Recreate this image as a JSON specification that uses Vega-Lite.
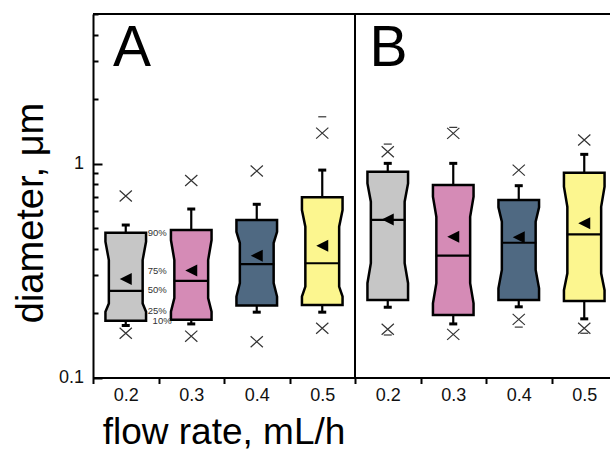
{
  "$schema": "https://vega.github.io/schema/vega-lite/v6.json",
  "width": 517,
  "height": 363.5,
  "autosize": {"type": "none"},
  "padding": {"left": 93, "top": 14, "right": 0, "bottom": 74.5},
  "background": "white",
  "config": {
    "view": {"stroke": null},
    "font": "Liberation Sans",
    "axis": {"labelFont": "Liberation Sans", "titleFont": "Liberation Sans"},
    "text": {"font": "Liberation Sans"}
  },
  "data": {"name": "boxes", "values": [
    {"box": "A0.2", "panel": "A", "rate": "0.2", "idx": 0, "p10": 0.184, "n4": 0.203, "n3": 0.222, "n2": 0.354, "n1": 0.431, "p90": 0.475, "median": 0.254, "mean": 0.289, "wlo": 0.175, "whi": 0.516, "xlo": 0.161, "xhi": 0.705},
    {"box": "A0.3", "panel": "A", "rate": "0.3", "idx": 1, "p10": 0.186, "n4": 0.203, "n3": 0.235, "n2": 0.354, "n1": 0.439, "p90": 0.489, "median": 0.283, "mean": 0.316, "wlo": 0.178, "whi": 0.613, "xlo": 0.156, "xhi": 0.833},
    {"box": "A0.4", "panel": "A", "rate": "0.4", "idx": 2, "p10": 0.217, "n4": 0.239, "n3": 0.276, "n2": 0.425, "n1": 0.48, "p90": 0.545, "median": 0.339, "mean": 0.371, "wlo": 0.202, "whi": 0.645, "xlo": 0.147, "xhi": 0.923},
    {"box": "A0.5", "panel": "A", "rate": "0.5", "idx": 3, "p10": 0.218, "n4": 0.239, "n3": 0.266, "n2": 0.507, "n1": 0.606, "p90": 0.695, "median": 0.342, "mean": 0.413, "wlo": 0.202, "whi": 0.932, "xlo": 0.17, "xhi": 1.388, "dhi": 1.654},
    {"box": "B0.2", "panel": "B", "rate": "0.2", "idx": 4, "p10": 0.23, "n4": 0.276, "n3": 0.342, "n2": 0.663, "n1": 0.808, "p90": 0.916, "median": 0.545, "mean": 0.548, "wlo": 0.213, "whi": 1.002, "xlo": 0.168, "xhi": 1.135, "dlo": 0.158, "dhi": 1.233},
    {"box": "B0.3", "panel": "B", "rate": "0.3", "idx": 5, "p10": 0.196, "n4": 0.222, "n3": 0.276, "n2": 0.564, "n1": 0.7, "p90": 0.793, "median": 0.371, "mean": 0.455, "wlo": 0.178, "whi": 1.002, "xlo": 0.159, "xhi": 1.384, "dhi": 1.476},
    {"box": "B0.4", "panel": "B", "rate": "0.4", "idx": 6, "p10": 0.23, "n4": 0.261, "n3": 0.318, "n2": 0.535, "n1": 0.624, "p90": 0.675, "median": 0.4265, "mean": 0.452, "wlo": 0.214, "whi": 0.788, "xlo": 0.187, "xhi": 0.932, "dlo": 0.172},
    {"box": "B0.5", "panel": "B", "rate": "0.5", "idx": 7, "p10": 0.228, "n4": 0.256, "n3": 0.307, "n2": 0.628, "n1": 0.779, "p90": 0.906, "median": 0.467, "mean": 0.526, "wlo": 0.188, "whi": 1.104, "xlo": 0.17, "xhi": 1.288, "dlo": 0.161}
  ]},
  "layer": [
    {
      "transform": [{"fold": ["whi", "wlo"], "as": ["k", "v"]}, {"fold": ["p90", "p10"], "as": ["k2", "v2"]}, {"filter": "(datum.k == 'whi' && datum.k2 == 'p90') || (datum.k == 'wlo' && datum.k2 == 'p10')"}],
      "mark": {"type": "rule", "color": "black", "strokeWidth": 2.2},
      "encoding": {
        "x": {"field": "idx", "type": "quantitative",
          "scale": {"domain": [-0.5, 7.5], "range": [0, 524], "nice": false, "zero": false},
          "axis": {"values": [-0.5, 0.5, 1.5, 2.5, 3.5, 4.5, 5.5, 6.5, 7.5],
            "labelExpr": "['0.2','0.3','0.4','0.5','0.2','0.3','0.4','0.5',''][round(datum.value + 0.5)]",
            "labelOffset": 32.75, "tickSize": 6, "tickWidth": 2, "tickColor": "black",
            "domainColor": "black", "domainWidth": 2, "labelFontSize": 18, "labelColor": "#111",
            "labelPadding": 3, "grid": false, "labelFlush": false, "labelOverlap": false, "labelBound": false,
            "title": "flow rate, mL/h", "titleFontSize": 37, "titleFontWeight": "normal", "titleColor": "black",
            "titleX": 130.5, "titleY": 66, "titleBaseline": "alphabetic", "titleAlign": "center", "titleAnchor": null}},
        "y": {"field": "v", "type": "quantitative",
          "scale": {"type": "log", "domain": [0.1, 5], "nice": false},
          "axis": {"values": [0.1, 0.2, 0.3, 0.4, 0.5, 0.6, 0.7, 0.8, 0.9, 1, 2, 3, 4, 5],
            "labelExpr": "datum.value == 1 ? '1' : (datum.value == 0.1 ? '0.1' : '')",
            "tickSize": {"condition": {"test": "datum.value == 1 || datum.value == 0.1", "value": -9}, "value": -5},
            "tickWidth": 2, "tickColor": "black", "domainColor": "black", "domainWidth": 2,
            "labelFontSize": 18, "labelColor": "#111", "labelPadding": 18.5, "grid": false,
            "labelFlush": false, "labelOverlap": false, "labelBound": false,
            "title": "diameter, μm", "titleFontSize": 38, "titleFontWeight": "normal", "titleColor": "black",
            "titleX": -51, "titleY": 198.5, "titleAngle": -90, "titleBaseline": "alphabetic", "titleAlign": "center", "titleAnchor": null}},
        "y2": {"field": "v2"}
      }
    },
    {
      "transform": [
        {"fold": ["p10", "n4", "n3", "n2", "n1", "p90"], "as": ["level", "v"]},
        {"calculate": "datum.level == 'n2' || datum.level == 'n3' ? 0.258 : 0.31", "as": "half"},
        {"calculate": "datum.idx - datum.half", "as": "xl"},
        {"calculate": "datum.idx + datum.half", "as": "xr"}
      ],
      "mark": {"type": "area", "orient": "horizontal", "stroke": "black", "strokeWidth": 2.5, "strokeJoin": "miter", "fillOpacity": 1, "opacity": 1},
      "encoding": {
        "y": {"field": "v", "type": "quantitative"},
        "x": {"field": "xl", "type": "quantitative"},
        "x2": {"field": "xr"},
        "detail": {"field": "box"},
        "color": {"field": "rate", "type": "nominal", "scale": {"domain": ["0.2", "0.3", "0.4", "0.5"], "range": ["#c6c6c6", "#d58bb6", "#4f6982", "#fcf68f"]}, "legend": null}
      }
    },
    {
      "mark": {"type": "point", "shape": "M-1,0L1,0", "size": 1225, "filled": false, "stroke": "black", "strokeWidth": 2.2, "opacity": 1},
      "encoding": {
        "x": {"field": "idx", "type": "quantitative"},
        "y": {"field": "median", "type": "quantitative"}
      }
    },
    {
      "transform": [{"fold": ["whi", "wlo"], "as": ["k", "v"]}],
      "mark": {"type": "point", "shape": "M-1,0L1,0", "size": 64, "filled": false, "stroke": "black", "strokeWidth": 3, "opacity": 1},
      "encoding": {
        "x": {"field": "idx", "type": "quantitative"},
        "y": {"field": "v", "type": "quantitative"}
      }
    },
    {
      "mark": {"type": "point", "shape": "M-1,0L1,-1L1,1Z", "size": 144, "filled": true, "fill": "black", "strokeWidth": 0, "opacity": 1},
      "encoding": {
        "x": {"field": "idx", "type": "quantitative"},
        "y": {"field": "mean", "type": "quantitative"}
      }
    },
    {
      "transform": [{"fold": ["xhi", "xlo"], "as": ["k", "v"]}],
      "mark": {"type": "point", "shape": "M-1,-0.9L1,0.9M-1,0.9L1,-0.9", "size": 150, "filled": false, "stroke": "#333333", "strokeWidth": 1.2, "opacity": 1},
      "encoding": {
        "x": {"field": "idx", "type": "quantitative"},
        "y": {"field": "v", "type": "quantitative"}
      }
    },
    {
      "transform": [{"fold": ["dhi", "dlo"], "as": ["k", "v"]}],
      "mark": {"type": "point", "shape": "M-1,0L1,0", "size": 64, "filled": false, "stroke": "#333333", "strokeWidth": 1.2, "opacity": 1},
      "encoding": {
        "x": {"field": "idx", "type": "quantitative"},
        "y": {"field": "v", "type": "quantitative"}
      }
    },
    {
      "data": {"values": [{"sep": "A|B"}]},
      "mark": {"type": "rule", "color": "black", "strokeWidth": 2},
      "encoding": {"x": {"datum": 3.5, "type": "quantitative"}}
    },
    {
      "data": {"values": [{"edge": "top"}]},
      "mark": {"type": "rule", "color": "black", "strokeWidth": 2},
      "encoding": {
        "x": {"datum": -0.5, "type": "quantitative"},
        "x2": {"datum": 7.5},
        "y": {"datum": 5, "type": "quantitative"}
      }
    },
    {
      "data": {"values": [{"label": "90%", "v": 0.474}, {"label": "75%", "v": 0.316}, {"label": "50%", "v": 0.256}, {"label": "25%", "v": 0.205}]},
      "mark": {"type": "text", "align": "left", "baseline": "middle", "fontSize": 9.5, "color": "#333333"},
      "encoding": {
        "x": {"datum": 0.335, "type": "quantitative"},
        "y": {"field": "v", "type": "quantitative"},
        "text": {"field": "label"}
      }
    },
    {
      "data": {"values": [{"label": "10%", "v": 0.183}]},
      "mark": {"type": "text", "align": "left", "baseline": "middle", "fontSize": 9.5, "color": "#333333"},
      "encoding": {
        "x": {"datum": 0.41, "type": "quantitative"},
        "y": {"field": "v", "type": "quantitative"},
        "text": {"field": "label"}
      }
    },
    {
      "data": {"values": [{"label": "A"}]},
      "mark": {"type": "text", "align": "left", "baseline": "alphabetic", "fontSize": 57, "color": "black"},
      "encoding": {
        "x": {"datum": -0.195, "type": "quantitative"},
        "y": {"datum": 2.855, "type": "quantitative"},
        "text": {"field": "label"}
      }
    },
    {
      "data": {"values": [{"label": "B"}]},
      "mark": {"type": "text", "align": "left", "baseline": "alphabetic", "fontSize": 57, "color": "black"},
      "encoding": {
        "x": {"datum": 3.721, "type": "quantitative"},
        "y": {"datum": 2.855, "type": "quantitative"},
        "text": {"field": "label"}
      }
    }
  ]
}
